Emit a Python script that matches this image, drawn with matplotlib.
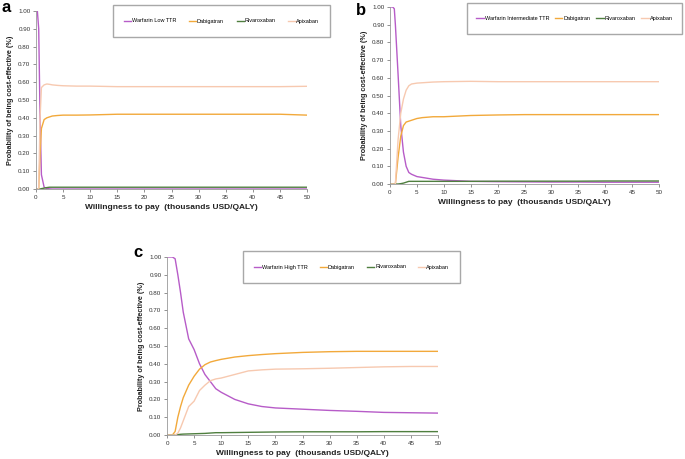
import matplotlib
matplotlib.use("Agg")
import matplotlib.pyplot as plt
from matplotlib.patches import Rectangle

plt.rcParams['font.family'] = ['Liberation Sans', 'DejaVu Sans']

# ---- data ----
xa = [0, 0.25, 0.5, 0.75, 1.0, 1.5, 2, 2.5, 3, 4, 5, 7.5, 10, 15, 20, 25, 30, 35, 40, 45, 50]
warf_a = [1.00, 1.00, 0.90, 0.40, 0.08, 0.01, 0.003, 0.001, 0, 0, 0, 0, 0, 0, 0, 0, 0, 0, 0, 0, 0]
dabi_a = [0, 0, 0, 0.20, 0.34, 0.39, 0.40, 0.405, 0.41, 0.413, 0.415, 0.415, 0.416, 0.42, 0.42, 0.42, 0.42, 0.42, 0.42, 0.42, 0.415]
riva_a = [0, 0, 0, 0, 0.002, 0.005, 0.008, 0.01, 0.01, 0.01, 0.01, 0.01, 0.01, 0.01, 0.01, 0.01, 0.01, 0.01, 0.01, 0.01, 0.01]
apix_a = [0, 0, 0, 0.40, 0.57, 0.585, 0.59, 0.588, 0.585, 0.582, 0.58, 0.578, 0.578, 0.575, 0.575, 0.575, 0.575, 0.575, 0.575, 0.575, 0.577]

xb = [0, 0.5, 0.8, 1.0, 1.5, 2, 2.5, 3, 3.5, 4, 5, 6, 8, 10, 15, 20, 25, 30, 35, 40, 45, 50]
warf_b = [1.00, 1.00, 0.99, 0.90, 0.62, 0.33, 0.18, 0.10, 0.065, 0.055, 0.042, 0.037, 0.027, 0.022, 0.015, 0.013, 0.012, 0.011, 0.011, 0.01, 0.01, 0.01]
dabi_b = [0, 0, 0, 0, 0.15, 0.27, 0.33, 0.35, 0.355, 0.36, 0.37, 0.375, 0.38, 0.38, 0.387, 0.39, 0.392, 0.392, 0.392, 0.392, 0.392, 0.392]
riva_b = [0, 0, 0, 0, 0, 0.002, 0.005, 0.01, 0.015, 0.015, 0.015, 0.015, 0.015, 0.015, 0.015, 0.016, 0.016, 0.016, 0.016, 0.017, 0.017, 0.017]
apix_b = [0, 0, 0, 0, 0.25, 0.40, 0.48, 0.53, 0.555, 0.565, 0.57, 0.572, 0.576, 0.578, 0.58, 0.578, 0.578, 0.578, 0.578, 0.578, 0.578, 0.578]

xc = [0, 1, 1.5, 2, 2.5, 3, 4, 5, 6, 7, 8, 9, 10, 12.5, 15, 17.5, 20, 25, 30, 35, 40, 45, 50]
warf_c = [1.00, 1.00, 0.99, 0.90, 0.80, 0.69, 0.54, 0.48, 0.40, 0.34, 0.30, 0.26, 0.24, 0.20, 0.175, 0.16, 0.152, 0.145, 0.138, 0.133, 0.127, 0.125, 0.123]
dabi_c = [0, 0, 0.02, 0.10, 0.16, 0.21, 0.28, 0.33, 0.37, 0.395, 0.41, 0.418, 0.425, 0.438, 0.446, 0.452, 0.457, 0.464, 0.468, 0.47, 0.47, 0.47, 0.47]
riva_c = [0, 0, 0, 0.002, 0.004, 0.005, 0.006, 0.007, 0.008, 0.009, 0.011, 0.013, 0.013, 0.014, 0.015, 0.016, 0.017, 0.018, 0.018, 0.018, 0.019, 0.019, 0.019]
apix_c = [0, 0, 0, 0.01, 0.04, 0.08, 0.16, 0.19, 0.25, 0.28, 0.305, 0.315, 0.32, 0.34, 0.36, 0.366, 0.37, 0.372, 0.375, 0.379, 0.383, 0.385, 0.385]

labels_a = ["Warfarin Low TTR", "Dabigatran", "Rivaroxaban", "Apixaban"]
labels_b = ["Warfarin Intermediate TTR", "Dabigatran", "Rivaroxaban", "Apixaban"]
labels_c = ["Warfarin High TTR", "Dabigatran", "Rivaroxaban", "Apixaban"]

colors = ["#b75cc8", "#f2a93b", "#4f7f3f", "#f7c9b0"]

xticks = [0, 5, 10, 15, 20, 25, 30, 35, 40, 45, 50]
yticks = [0.0, 0.1, 0.2, 0.3, 0.4, 0.5, 0.6, 0.7, 0.8, 0.9, 1.0]

W, H = 685, 459
fig = plt.figure(figsize=(W / 100, H / 100), dpi=100)


def fx(p):
    return p / W


def fy(p):
    return 1 - p / H


panels = [
    ("a", xa, [warf_a, dabi_a, riva_a, apix_a], labels_a, (36, 307, 11, 189), (113, 330, 5, 37), (2, 12), 2.3),
    ("b", xb, [warf_b, dabi_b, riva_b, apix_b], labels_b, (390, 659, 7, 184), (467, 682, 3, 34), (356, 15), 1.1),
    ("c", xc, [warf_c, dabi_c, riva_c, apix_c], labels_c, (167, 438, 257, 435), (243, 460, 251, 283), (133, 257), 2.2),
]

for letter, x, series, labels, (l, r, t, b), (ll, lr, lt, lb), (tx, ty), cs in panels:
    ax = fig.add_axes([fx(l), fy(b), fx(r) - fx(l), fy(t) - fy(b)])
    handles = []
    for s, c, lab in zip(series, colors, labels):
        h, = ax.plot(x, s, color=c, lw=1.0, label=lab)
        handles.append(h)
    ax.set_xlim(0, 50)
    ax.set_ylim(0, 1)
    ax.set_xticks(xticks)
    ax.set_yticks(yticks)
    ax.set_yticklabels([f"{v:.2f}" for v in yticks])
    ax.tick_params(labelsize=4.5, length=2, width=0.5, colors="#666666", labelcolor="#333333", pad=2)
    for sp in ["top", "right"]:
        ax.spines[sp].set_visible(False)
    for sp in ["left", "bottom"]:
        ax.spines[sp].set_color("#999999")
        ax.spines[sp].set_linewidth(0.6)
    ax.set_xlabel("Willingness to pay  (thousands USD/QALY)", fontsize=6, fontweight="bold", labelpad=3.5, color="#222222")
    ax.set_ylabel("Probability of being cost-effective (%)", fontsize=5.2, fontweight="bold", labelpad=3, color="#222222")
    # legend frame
    rect = Rectangle((fx(ll), fy(lb)), fx(lr) - fx(ll), fy(lt) - fy(lb), transform=fig.transFigure,
                     facecolor="white", edgecolor="#a8a8a8", linewidth=1.0, zorder=5)
    fig.patches.append(rect)
    leg = fig.legend(handles=handles, loc="center", ncol=4,
                     bbox_to_anchor=((fx(ll) + fx(lr)) / 2, (fy(lt) + fy(lb)) / 2),
                     bbox_transform=fig.transFigure, fontsize=4.0, frameon=False,
                     handlelength=1.3, handletextpad=0.15, columnspacing=cs)
    leg.set_zorder(6)
    fig.text(fx(tx), fy(ty), letter, fontsize=12, fontweight="bold", ha="left", va="baseline")

fig.savefig("out.png", dpi=100)
